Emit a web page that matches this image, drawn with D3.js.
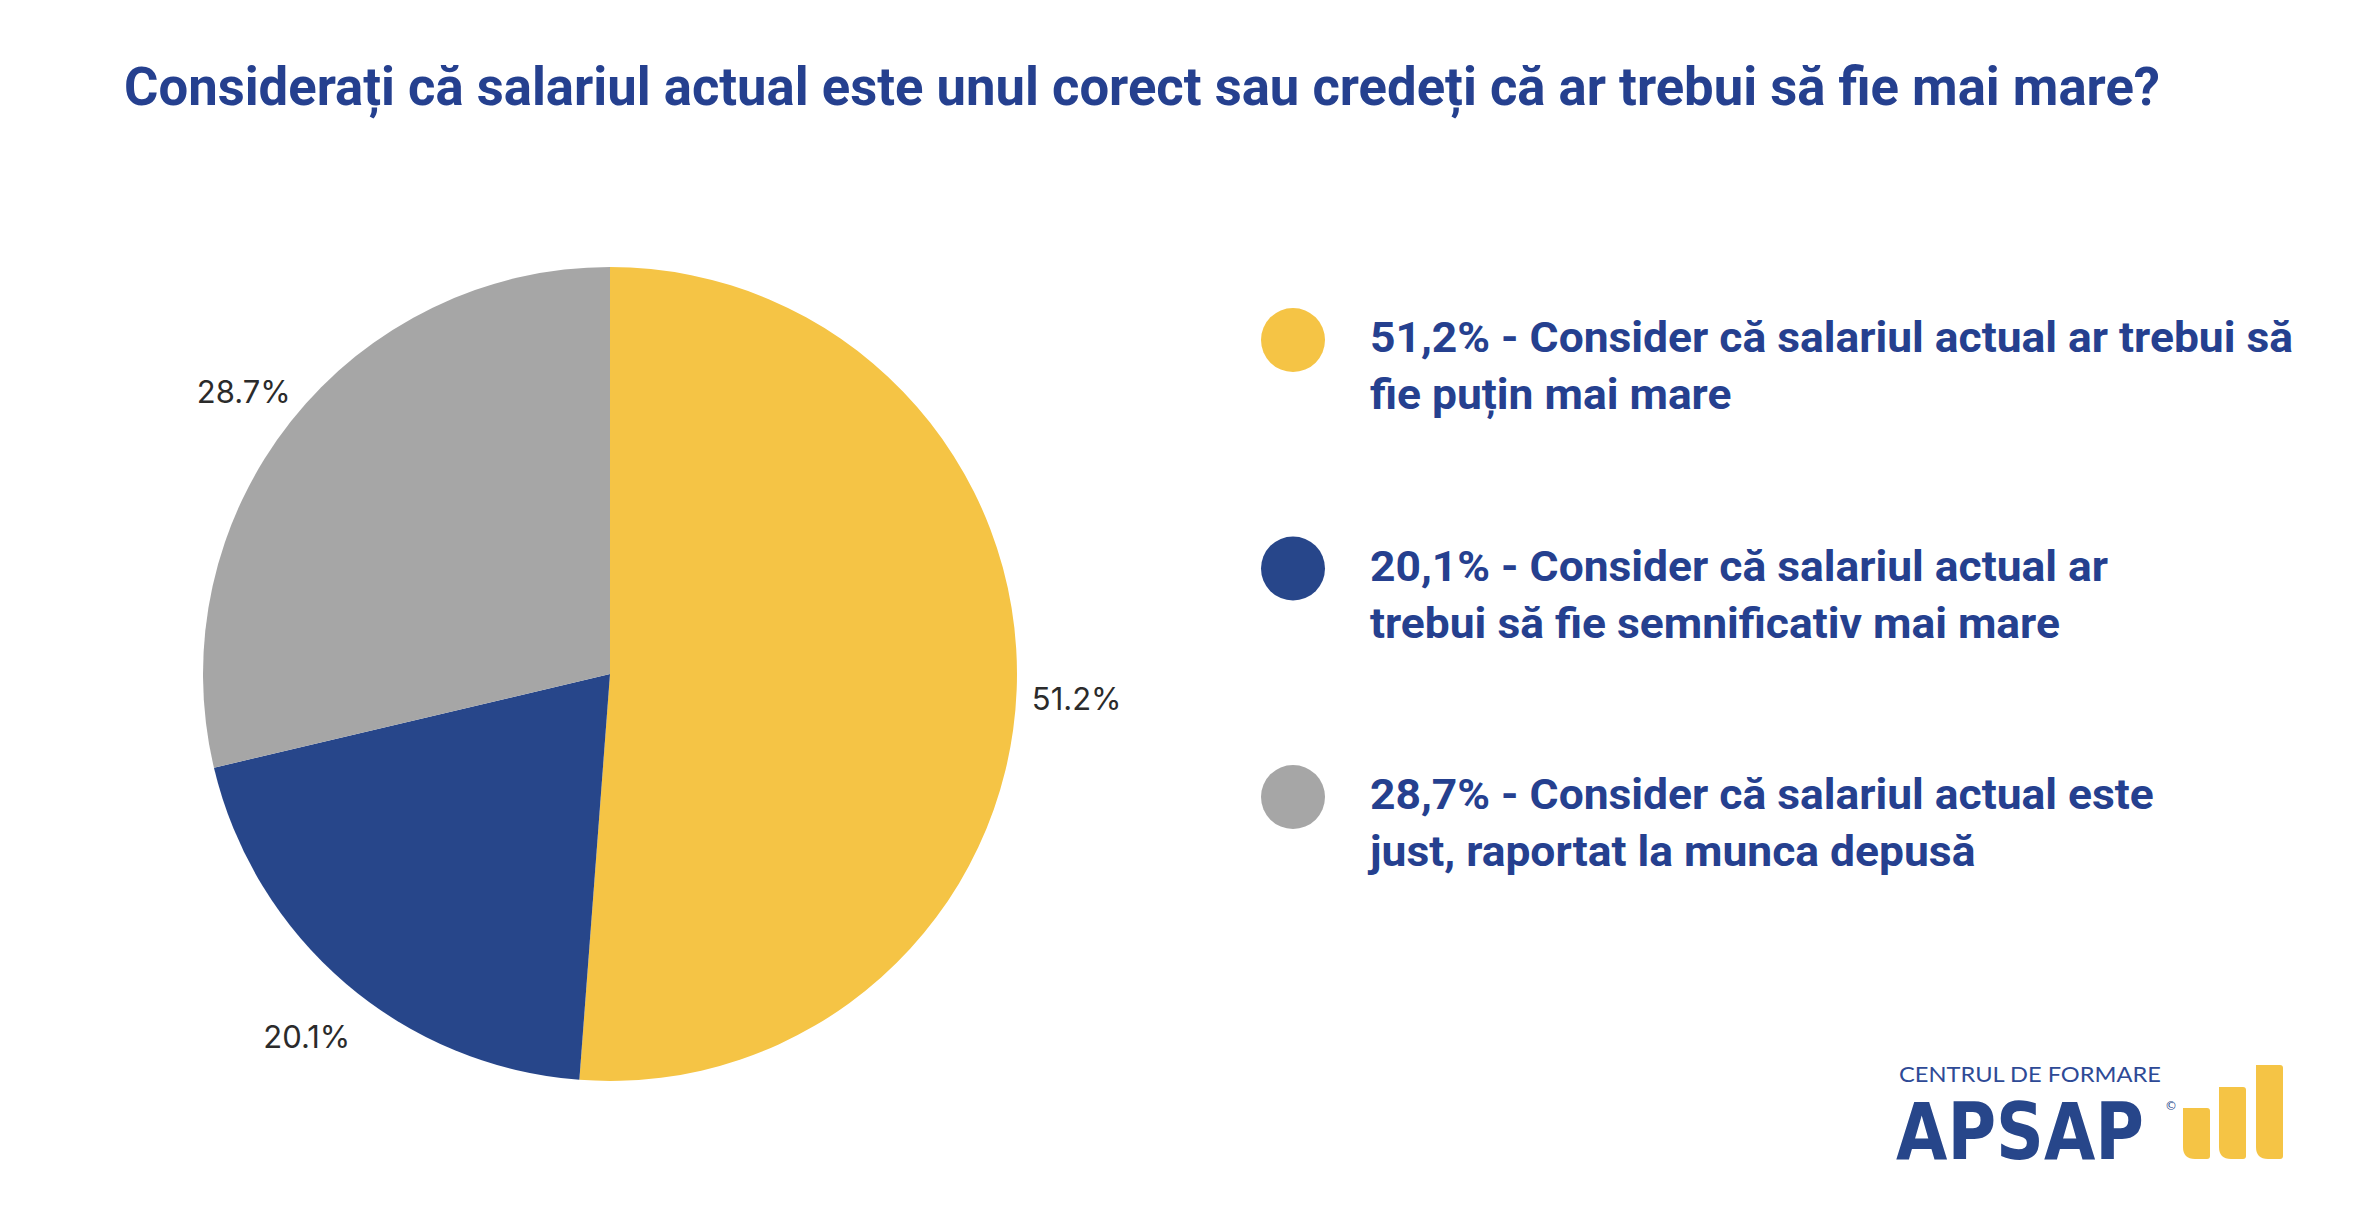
<!DOCTYPE html>
<html>
<head>
<meta charset="utf-8">
<script src="https://cdn.jsdelivr.net/npm/d3@7"></script>
<style>
  html, body { margin: 0; padding: 0; background: #fff; }
  svg { display: block; }
</style>
</head>
<body>
<div id="chart"></div>
<script>
var width = 2372, height = 1228;

// data
var title = "Considerați că salariul actual este unul corect sau credeți că ar trebui să fie mai mare?";
var categories = [
    "Consider că salariul actual ar trebui să fie puțin mai mare",
    "Consider că salariul actual ar trebui să fie semnificativ mai mare",
    "Consider că salariul actual este just, raportat la munca depusă"
];
var values = [51.2, 20.1, 28.7];
var colors = ["#F5C445", "#27468A", "#A6A6A6"];
var legendLines = [
    ["51,2% - Consider că salariul actual ar trebui să", "fie puțin mai mare"],
    ["20,1% - Consider că salariul actual ar", "trebui să fie semnificativ mai mare"],
    ["28,7% - Consider că salariul actual este", "just, raportat la munca depusă"]
];

var textBlue = "#25408F";

var svg = d3.select("#chart").append("svg")
    .attr("width", width)
    .attr("height", height);

svg.append("rect").attr("width", width).attr("height", height).attr("fill", "#fff");

// title (condensed bold look)
svg.append("text")
    .attr("x", 124)
    .attr("y", 105)
    .attr("font-family", "Roboto, sans-serif")
    .attr("font-weight", 700)
    .attr("font-size", 54)
    .attr("fill", textBlue)
    .attr("textLength", 2036)
    .attr("lengthAdjust", "spacingAndGlyphs")
    .text(title);

// pie
var cx = 610, cy = 674, radius = 407;
var pie = d3.pie().sort(null).value(d => d)(values);
var arc = d3.arc().innerRadius(0).outerRadius(radius);
var labelArc = d3.arc().innerRadius(467).outerRadius(467);

var g = svg.append("g").attr("transform", `translate(${cx},${cy})`);

g.selectAll("path")
    .data(pie)
    .join("path")
        .attr("d", arc)
        .attr("fill", (d, i) => colors[i]);

g.selectAll("text")
    .data(pie)
    .join("text")
        .attr("transform", d => `translate(${labelArc.centroid(d)})`)
        .attr("dy", "0.35em")
        .attr("y", 8)
        .attr("text-anchor", "middle")
        .attr("font-family", "Inter, sans-serif")
        .attr("font-size", 31)
        .attr("fill", "#2b2b2b")
        .text(d => d.data.toFixed(1) + "%");

// legend
var rowY = d3.scalePoint().domain(d3.range(categories.length)).range([340, 797]);

var legend = svg.append("g")
    .selectAll("g")
    .data(legendLines)
    .join("g")
        .attr("transform", (d, i) => `translate(1293,${rowY(i)})`);

legend.append("circle")
    .attr("r", 32)
    .attr("fill", (d, i) => colors[i]);

var lt = legend.selectAll("text")
    .data(d => d)
    .join("text")
        .attr("x", 77)
        .attr("y", (d, j) => 12 + j * 57)
        .attr("font-family", "Roboto, sans-serif")
        .attr("font-weight", 700)
        .attr("font-size", 43)
        .attr("fill", textBlue)
        .text(d => d);

// squeeze legend text the same amount as the reference's condensed face
var firstW = lt.nodes()[0].getComputedTextLength();
var k = 923 / firstW;
lt.each(function() {
    var w = this.getComputedTextLength();
    d3.select(this).attr("textLength", w * k).attr("lengthAdjust", "spacingAndGlyphs");
});

// logo
var logo = svg.append("g");
logo.append("text")
    .attr("x", 1899).attr("y", 1082)
    .attr("font-family", "Lato, sans-serif")
    .attr("font-size", 21)
    .attr("fill", "#2E4A96")
    .attr("textLength", 262).attr("lengthAdjust", "spacingAndGlyphs")
    .text("CENTRUL DE FORMARE");
logo.append("text")
    .attr("transform", "translate(1896,1159) scale(1,1.18)")
    .attr("font-family", "DejaVu Sans, sans-serif")
    .attr("font-weight", 700)
    .attr("font-size", 66)
    .attr("fill", "#27468A")
    .attr("textLength", 248).attr("lengthAdjust", "spacingAndGlyphs")
    .text("APSAP");
logo.append("text")
    .attr("x", 2165).attr("y", 1110)
    .attr("font-family", "DejaVu Sans, sans-serif")
    .attr("font-size", 12)
    .attr("fill", "#27468A")
    .text("©");

var barShape = function(x, top, w, bottom) {
    var rb = 12, rt = 3;
    return `M${x},${top} L${x + w - rt},${top} Q${x + w},${top} ${x + w},${top + rt}
            L${x + w},${bottom - rt} Q${x + w},${bottom} ${x + w - rt},${bottom}
            L${x + rb},${bottom} Q${x},${bottom} ${x},${bottom - rb} Z`;
};
[[2183, 1108], [2219, 1087], [2256, 1065]].forEach(function(b) {
    logo.append("path")
        .attr("d", barShape(b[0], b[1], 27, 1159))
        .attr("fill", "#F5C445");
});
</script>
</body>
</html>
